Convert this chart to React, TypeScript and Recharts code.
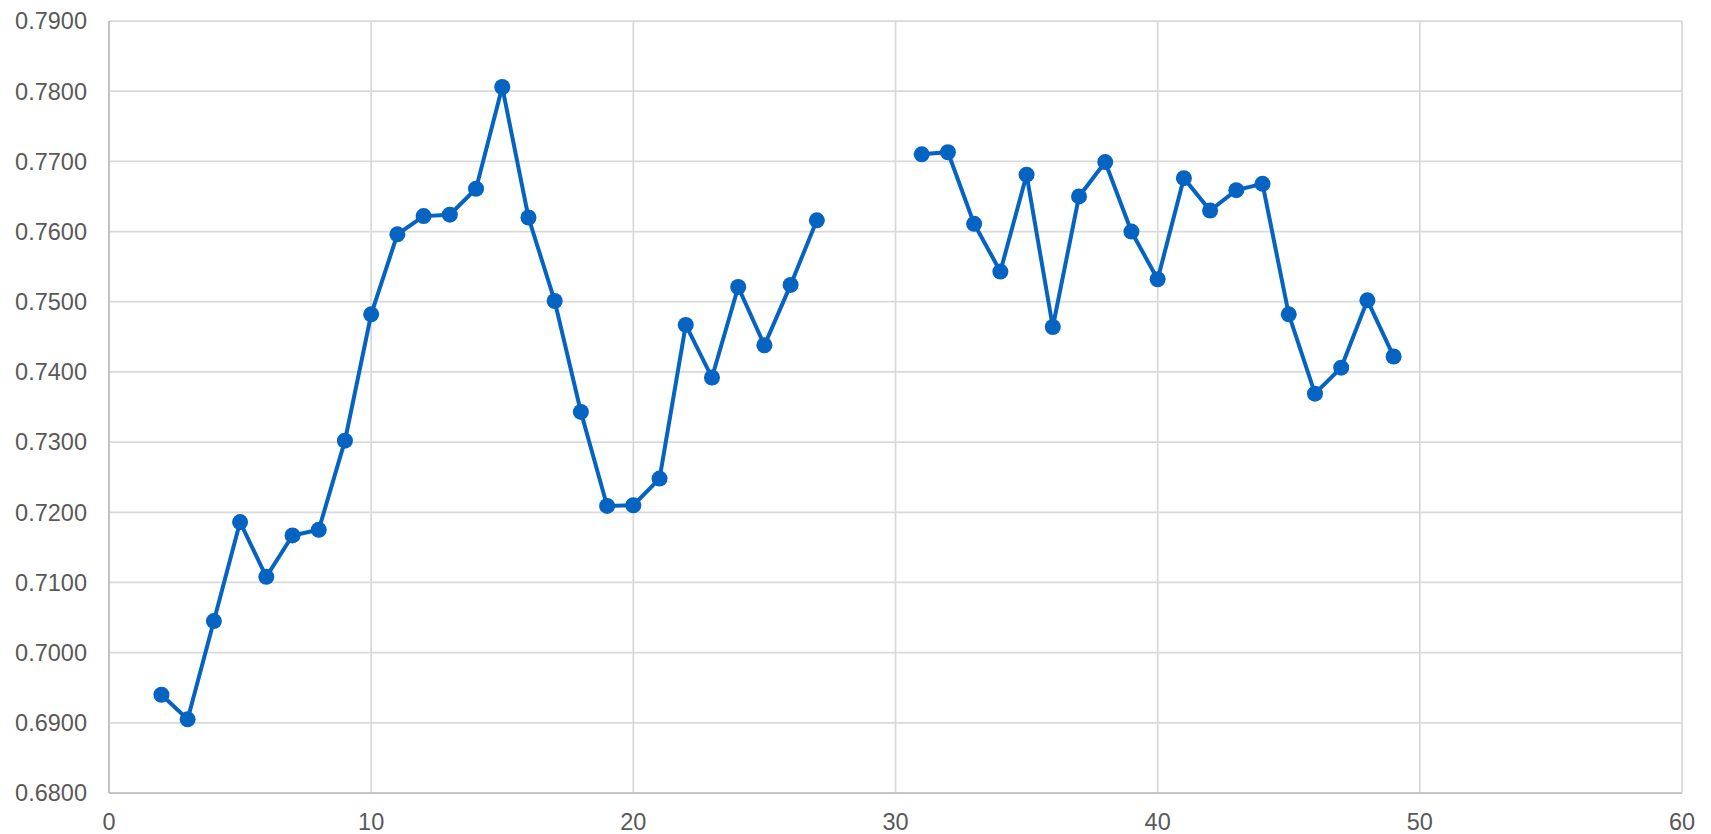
import React from "react";
import { LineChart, Line, XAxis, YAxis, CartesianGrid } from "recharts";

const xValues: number[] = [
  2, 3, 4, 5, 6, 7, 8, 9, 10, 11, 12, 13, 14, 15, 16, 17, 18, 19, 20, 21, 22, 23, 24, 25, 26, 27,
  28, 29, 30,
  31, 32, 33, 34, 35, 36, 37, 38, 39, 40, 41, 42, 43, 44, 45, 46, 47, 48, 49,
];

const yValues: (number | null)[] = [
  0.694, 0.6905, 0.7045, 0.7186, 0.7108, 0.7167, 0.7175, 0.7302, 0.7482, 0.7596, 0.7622, 0.7624,
  0.7661, 0.7806, 0.762, 0.7501, 0.7343, 0.7209, 0.721, 0.7248, 0.7467, 0.7392, 0.7521, 0.7438,
  0.7524, 0.7616,
  null, null, null,
  0.771, 0.7713, 0.7611, 0.7543, 0.7681, 0.7464, 0.765, 0.7699, 0.76, 0.7532, 0.7676, 0.763,
  0.7659, 0.7668, 0.7482, 0.7369, 0.7406, 0.7502, 0.7422,
];

const xTicks: number[] = [0, 10, 20, 30, 40, 50, 60];
const yTicks: number[] = [0.68, 0.69, 0.7, 0.71, 0.72, 0.73, 0.74, 0.75, 0.76, 0.77, 0.78, 0.79];

const data = xValues.map((x, i) => ({ x, y: yValues[i] }));

const LINE_COLOR = "#0563C1";
const tickStyle = { fill: "#595959", fontSize: 23.5, fontFamily: "'Liberation Sans', Arial, sans-serif" };

export default function App() {
  return (
    <div style={{ position: "absolute", left: 0, top: 0, width: 1711, height: 834, background: "#fff" }}>
      <LineChart
        width={1711}
        height={834}
        data={data}
        margin={{ top: 21, right: 29, bottom: 0, left: 0 }}
      >
        <CartesianGrid stroke="#d9d9d9" strokeWidth={1.75} />
        <XAxis
          dataKey="x"
          type="number"
          domain={[0, 60]}
          ticks={xTicks}
          interval={0}
          height={41}
          tickLine={false}
          tickSize={6}
          tickMargin={14}
          axisLine={{ stroke: "#bfbfbf", strokeWidth: 1.75 }}
          tick={tickStyle}
        />
        <YAxis
          type="number"
          domain={[0.68, 0.79]}
          ticks={yTicks}
          interval={0}
          width={109}
          tickLine={false}
          tickSize={6}
          tickMargin={16}
          axisLine={{ stroke: "#bfbfbf", strokeWidth: 1.75 }}
          tick={tickStyle}
          tickFormatter={(v: number) => v.toFixed(4)}
          allowDataOverflow
        />
        <Line
          dataKey="y"
          type="linear"
          stroke={LINE_COLOR}
          strokeWidth={4}
          dot={{ r: 8, fill: LINE_COLOR, stroke: "none" }}
          activeDot={false}
          connectNulls={false}
          isAnimationActive={false}
        />
      </LineChart>
    </div>
  );
}
